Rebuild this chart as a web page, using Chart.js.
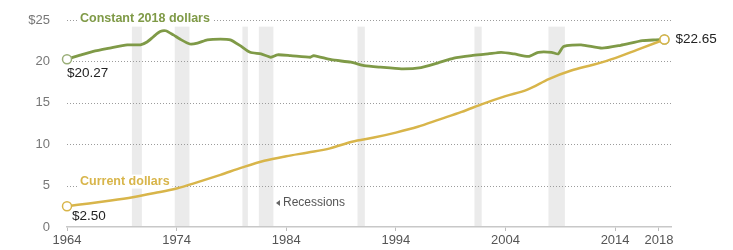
<!DOCTYPE html>
<html>
<head>
<meta charset="utf-8">
<script src="https://cdn.jsdelivr.net/npm/chart.js@4"></script>
<style>
    html, body { margin: 0; padding: 0; background: #fff; }
    #wrap { width: 733px; height: 250px; }
</style>
</head>
<body>
<div id="wrap"><canvas id="wageChart" width="733" height="250"></canvas></div>
<script>
// Average hourly earnings
const constantYears = [1964, 1965.2, 1966.4, 1967.9, 1969.5, 1970.7, 1971.3, 1971.9, 1972.5, 1973.0, 1973.7, 1974.3,
    1975.2, 1975.9, 1976.8, 1978.0, 1978.9, 1979.8, 1980.7, 1981.7, 1982.6, 1983.2, 1984.4, 1986.2, 1986.5, 1988.1,
    1989.9, 1991.1, 1992.6, 1994.5, 1996.3, 1997.8, 1999.3, 2000.9, 2002.4, 2003.6, 2004.8, 2006.1, 2007.0, 2008.2,
    2008.8, 2009.3, 2010.9, 2012.8, 2014.5, 2016.5, 2017.7, 2018.5];
const constantDollars = [20.27, 20.75, 21.2, 21.6, 22.0, 22.0, 22.35, 23.0, 23.6, 23.7, 23.2, 22.7,
    22.1, 22.2, 22.6, 22.7, 22.6, 21.9, 21.1, 20.9, 20.5, 20.8, 20.7, 20.5, 20.7, 20.2,
    19.9, 19.5, 19.3, 19.1, 19.25, 19.8, 20.4, 20.7, 20.9, 21.1, 20.9, 20.6, 21.1, 21.1,
    20.9, 21.8, 22.0, 21.6, 21.95, 22.5, 22.6, 22.65];

const currentYears = [1964, 1966, 1968, 1970, 1972, 1974, 1976, 1978, 1980, 1982, 1984, 1986, 1988, 1990,
    1992, 1994, 1996, 1998, 2000, 2002, 2004, 2006, 2008, 2010, 2012, 2014, 2016, 2018.5];
const currentDollars = [2.50, 2.85, 3.2, 3.6, 4.1, 4.65, 5.45, 6.3, 7.2, 8.0, 8.55, 9.0, 9.5, 10.3,
    10.8, 11.4, 12.1, 13.0, 13.9, 14.9, 15.8, 16.6, 17.9, 18.9, 19.6, 20.4, 21.4, 22.65];

// Recession periods (start / end, decimal years)
const recessionStart = [1969.92, 1973.83, 1980.0, 1981.5, 1990.5, 2001.17, 2007.92];
const recessionEnd = [1970.83, 1975.17, 1980.5, 1982.83, 1991.17, 2001.83, 2009.42];

const xTickYears = [1964, 1974, 1984, 1994, 2004, 2014, 2018];
const yTickValues = [0, 5, 10, 15, 20, 25];

const GREEN = '#7f9a47';
const GOLD = '#d8b54a';
const FONT = "'Liberation Sans', Arial, sans-serif";

function toPoints(xs, ys) {
    return xs.map((x, i) => ({ x: x, y: ys[i] }));
}

// only the first and last point get a little open circle
function endRadius(ctx) {
    const n = ctx.dataset.data.length;
    return (ctx.dataIndex === 0 || ctx.dataIndex === n - 1) ? 4.5 : 0;
}

// grey bands behind everything, then the dotted grid on top
const recessionBands = {
    id: 'recessionBands',
    beforeDraw(chart) {
        const { ctx, scales: { x, y } } = chart;
        ctx.save();
        ctx.fillStyle = '#ebebeb';
        const top = y.getPixelForValue(24.2);
        const bottom = y.getPixelForValue(0);
        recessionStart.forEach((s, i) => {
            const x0 = x.getPixelForValue(s);
            const x1 = x.getPixelForValue(recessionEnd[i]);
            ctx.fillRect(x0, top, x1 - x0, bottom - top);
        });

        // dotted horizontal grid
        ctx.fillStyle = '#9c9c9c';
        const left = chart.chartArea.left;
        const right = chart.chartArea.right;
        yTickValues.forEach(v => {
            if (v === 0) return;
            const py = Math.round(y.getPixelForValue(v));
            for (let px = left; px < right; px += 3) {
                ctx.fillRect(px, py, 1, 1);
            }
        });
        ctx.restore();
    }
};

// series names and value labels
const textLabels = {
    id: 'textLabels',
    beforeDatasetsDraw(chart) {
        // series names sit on white boxes that break the grid, under the lines
        const { ctx, scales: { x, y } } = chart;
        ctx.save();
        ctx.textBaseline = 'middle';
        ctx.textAlign = 'left';
        function boxed(text, left, mid, color, font) {
            ctx.font = font;
            const w = ctx.measureText(text).width;
            ctx.fillStyle = '#fff';
            ctx.fillRect(left - 3, mid - 7, w + 6, 14);
            ctx.fillStyle = color;
            ctx.fillText(text, left, mid);
        }
        const left = x.getPixelForValue(1964);
        boxed('Constant 2018 dollars', left + 13, y.getPixelForValue(25) - 1, GREEN, 'bold 12.5px ' + FONT);
        boxed('Current dollars', left + 13, y.getPixelForValue(5) - 4, GOLD, 'bold 12.5px ' + FONT);
        ctx.restore();
    },
    afterDatasetsDraw(chart) {
        const { ctx, scales: { x, y } } = chart;
        ctx.save();
        ctx.textBaseline = 'middle';
        ctx.textAlign = 'left';

        const left = x.getPixelForValue(1964);
        ctx.fillStyle = '#222';
        ctx.font = '13.5px ' + FONT;
        ctx.fillText('$20.27', left, y.getPixelForValue(constantDollars[0]) + 14);
        ctx.fillText('$2.50', left + 5, y.getPixelForValue(currentDollars[0]) + 10);
        const lastX = x.getPixelForValue(constantYears[constantYears.length - 1]);
        ctx.fillText('$22.65', lastX + 11, y.getPixelForValue(constantDollars[constantDollars.length - 1]));

        // recessions key
        ctx.fillStyle = '#666';
        const ky = y.getPixelForValue(2.9);
        ctx.beginPath();
        ctx.moveTo(276, ky);
        ctx.lineTo(280, ky - 3);
        ctx.lineTo(280, ky + 3);
        ctx.closePath();
        ctx.fill();
        ctx.font = '12px ' + FONT;
        ctx.fillStyle = '#555';
        ctx.fillText('Recessions', 283, ky);
        ctx.restore();
    }
};

new Chart(document.getElementById('wageChart').getContext('2d'), {
    type: 'line',
    data: {
        datasets: [
            {
                label: 'Current dollars',
                data: toPoints(currentYears, currentDollars),
                borderColor: GOLD,
                borderWidth: 2.5,
                cubicInterpolationMode: 'monotone',
                clip: false,
                pointRadius: endRadius,
                pointBackgroundColor: '#fff',
                pointBorderColor: GOLD,
                pointBorderWidth: 1.5
            },
            {
                label: 'Constant 2018 dollars',
                data: toPoints(constantYears, constantDollars),
                borderColor: GREEN,
                borderWidth: 2.8,
                tension: 0.2,
                clip: false,
                pointRadius: endRadius,
                pointBackgroundColor: '#fff',
                pointBorderColor: '#9aae78',
                pointBorderWidth: 1.5
            }
        ]
    },
    options: {
        responsive: false,
        animation: false,
        layout: { padding: { left: 0, right: 62, top: 20, bottom: 0 } },
        plugins: {
            legend: { display: false },
            tooltip: { enabled: false }
        },
        scales: {
            x: {
                type: 'linear',
                min: 1964,
                max: 2019.1,
                afterFit(scale) { scale.height = 23; },
                afterBuildTicks(scale) { scale.ticks = xTickYears.map(v => ({ value: v })); },
                grid: { drawOnChartArea: false, drawTicks: true, tickLength: 4, color: '#bdbdbd' },
                border: { display: true, color: '#c8c8c8', width: 1.5 },
                ticks: {
                    autoSkip: false,
                    maxRotation: 0,
                    padding: 2,
                    color: '#555',
                    font: { family: FONT, size: 13 },
                    callback: v => String(v)
                }
            },
            y: {
                min: 0,
                max: 25,
                afterFit(scale) { scale.width = 67; },
                afterBuildTicks(scale) { scale.ticks = yTickValues.map(v => ({ value: v })); },
                grid: { display: false },
                border: { display: false },
                ticks: {
                    padding: 9,
                    color: '#777',
                    font: { family: FONT, size: 13 },
                    callback: v => v === 25 ? '$25' : String(v)
                }
            }
        }
    },
    plugins: [recessionBands, textLabels]
});
</script>
</body>
</html>
